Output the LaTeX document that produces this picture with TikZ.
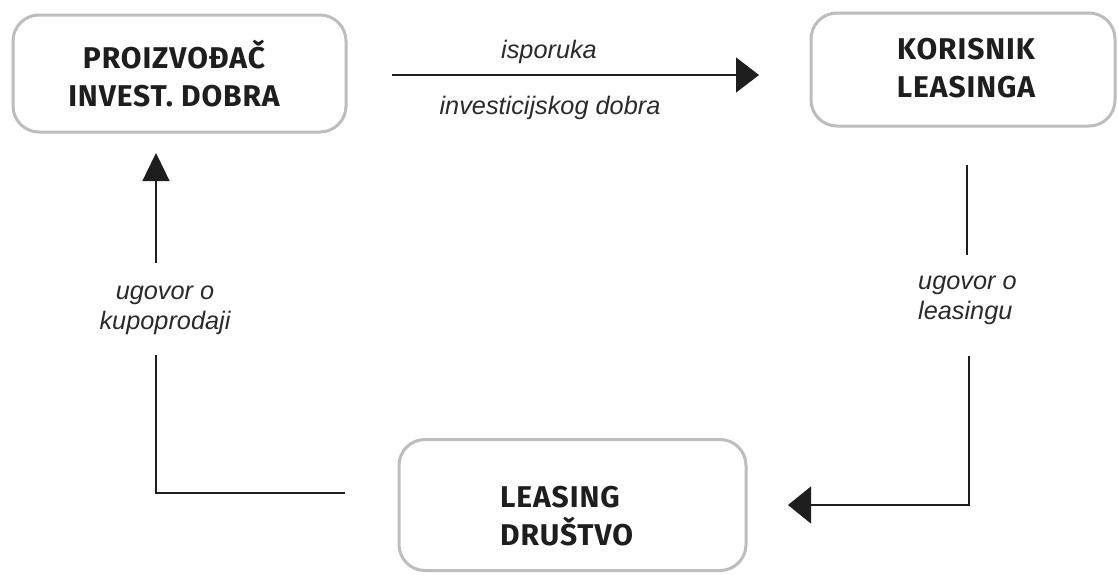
\documentclass[tikz,border=0pt]{standalone}
\usepackage{fontspec}
\setmainfont{Liberation Sans}
\newfontfamily\boxfont{Fira Sans}[LetterSpace=3]
\usetikzlibrary{arrows.meta}
\definecolor{boxgray}{HTML}{BDBDBD}
\definecolor{ink}{HTML}{1E1E1E}
\definecolor{labink}{HTML}{2A2A2A}
\begin{document}
\begin{tikzpicture}[x=1pt,y=-1pt,
  box/.style={draw=boxgray, line width=3pt, rounded corners=26pt, inner sep=0pt},
  boxtext/.style={font=\boxfont\bfseries\fontsize{30}{38}\selectfont, text=ink, inner sep=0pt},
  lab/.style={font=\itshape\fontsize{25.3}{30}\selectfont, text=labink, inner sep=0pt},
  conn/.style={line width=1.4pt, draw=ink},
  tipA/.style={-{Triangle[length=23pt,width=35pt]}},
  tipB/.style={-{Triangle[length=28pt,width=27pt]}},
  tipC/.style={-{Triangle[length=23pt,width=37pt]}}]
\useasboundingbox (0,0) rectangle (1118,574);
\fill[white] (0,0) rectangle (1118,574);
% boxes
\node[box, minimum width=333pt, minimum height=117pt] (p) at (179.5,73.5) {};
\node[box, minimum width=304pt, minimum height=113pt] (k) at (963,69.5) {};
\node[box, minimum width=347pt, minimum height=131pt] (l) at (572.5,505) {};
% box texts
\node[boxtext, align=center] (pt) at (174,74) {PROIZVOĐAČ\\INVEST. DOBRA};
\node[boxtext, align=center] (kt) at (966,68) {KORISNIK\\LEASINGA};
\node[boxtext, align=left, anchor=west] (lt) at (500,516) {LEASING\\DRUŠTVO};
% coordinates of connector ends
\coordinate (a1) at (392,75);
\coordinate (a2) at (759,75);
\coordinate (b1) at (345,493);
\coordinate (b2) at (156,355);
\coordinate (b3) at (156,263);
\coordinate (b4) at (156,153);
\coordinate (c1) at (967,165);
\coordinate (c2) at (967,255);
\coordinate (c3) at (969,356);
\coordinate (c4) at (788,505);
% connectors
\draw[conn, tipA] (a1) -- (a2);
\draw[conn] (b1) -| (b2);
\draw[conn, tipB] (b3) -- (b4);
\draw[conn] (c1) -- (c2);
\draw[conn, tipC] (c3) |- (c4);
% labels
\node[lab] (la1) at (549,52) {isporuka};
\node[lab] (la2) at (550,108) {investicijskog dobra};
\node[lab, align=center] (lb) at (165,310) {ugovor o\\kupoprodaji};
\node[lab, align=left, anchor=west] (lc) at (918,300) {ugovor o\\leasingu};
\end{tikzpicture}
\end{document}
